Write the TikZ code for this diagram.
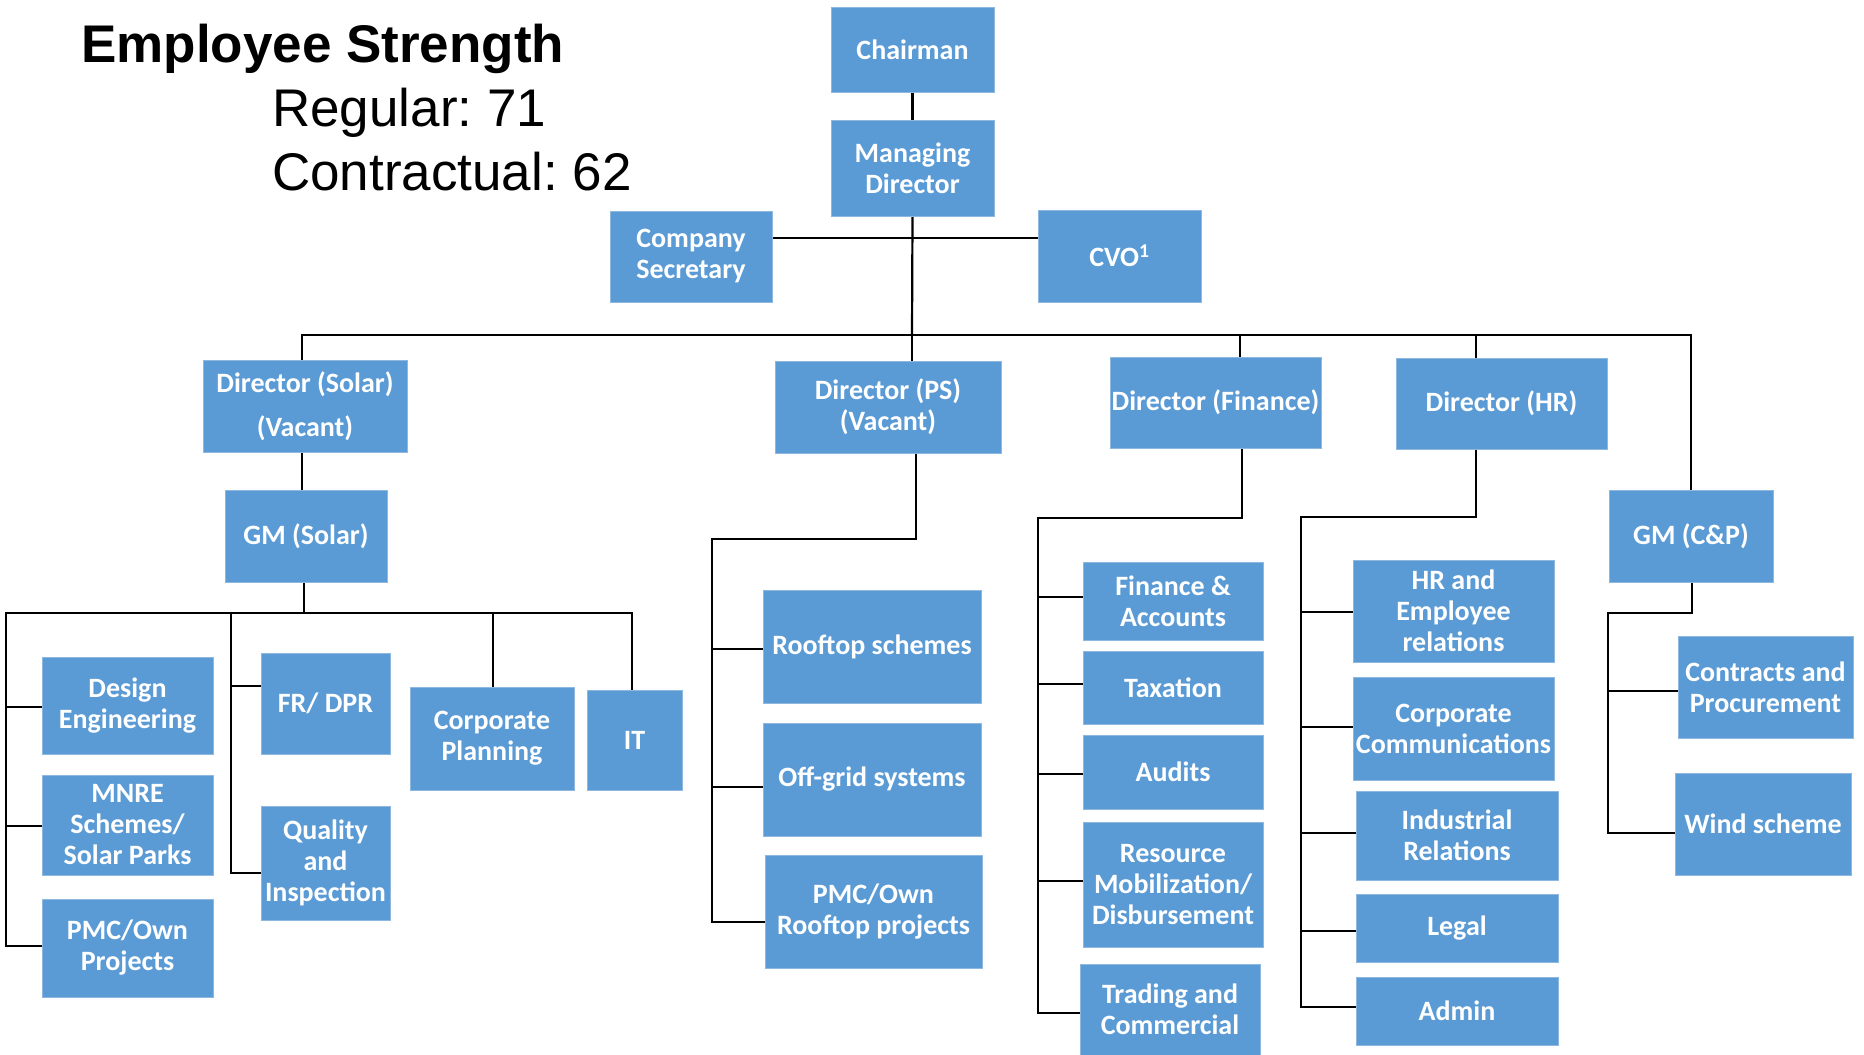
\documentclass[tikz,border=0pt]{standalone}
\usepackage{fontspec}
\setmainfont{Carlito}
\newfontfamily\arialf{Liberation Sans}
\usetikzlibrary{backgrounds}
\definecolor{boxblue}{HTML}{5B9BD5}
\definecolor{boxedge}{HTML}{8FB8E0}
\frenchspacing
\begin{document}
\begin{tikzpicture}[x=1pt,y=-1pt,
  box/.style={fill=boxblue, draw=boxedge, line width=0.8pt, text=white, align=center, inner sep=0pt,
              font=\fontsize{28}{31}\selectfont\bfseries},
  wh/.style 2 args={minimum width=#1, minimum height=#2},
  wire/.style={draw=black, line width=2.2pt, line cap=rect, line join=miter},
  ttl/.style={anchor=base west, inner sep=0pt, text=black}]
\useasboundingbox (0,0) rectangle (1864,1055);

% title
\node[ttl, font=\arialf\bfseries\fontsize{53}{53}\selectfont] (title) at (81,62) {Employee Strength};
\node[ttl, font=\arialf\fontsize{53}{53}\selectfont] (reg) at (272,126) {Regular: 71};
\node[ttl, font=\arialf\fontsize{53}{53}\selectfont] (con) at (272,190) {Contractual: 62};

% top
\node[box,wh={163}{85}] (chair) at (912.5,49.5) {Chairman};
\node[box,wh={163}{96}] (md) at (912.5,168) {Managing\\Director};
\node[box,wh={162}{91}] (cs) at (691,256.5) {Company\\Secretary};
\node[box,wh={163}{92}] (cvo) at (1119.5,256) {CVO\textsuperscript{1}};

% directors
\node[box,wh={204}{92}] (dsol) at (305,406) {Director (Solar)\\[13pt](Vacant)};
\node[box,wh={226}{92}] (dps) at (888,407) {Director (PS)\\(Vacant)};
\node[box,wh={211}{91}] (dfin) at (1215.5,402.5) {Director (Finance)};
\node[box,wh={211}{91}] (dhr) at (1501.5,403.5) {Director (HR)};
\node[box,wh={162}{92}] (gmsol) at (306,536) {GM (Solar)};
\node[box,wh={164}{92}] (gmcp) at (1691,536) {GM (C\&P)};

% solar
\node[box,wh={171}{97}] (des) at (127.5,705.5) {Design\\Engineering};
\node[box,wh={171}{100}] (mnre) at (127.5,825) {MNRE\\Schemes/\\Solar Parks};
\node[box,wh={171}{98}] (pmco) at (127.5,948) {PMC/Own\\Projects};
\node[box,wh={129}{101}] (frdpr) at (325.5,703.5) {FR/ DPR};
\node[box,wh={129}{114}] (qual) at (325.5,863) {Quality\\and\\Inspection};
\node[box,wh={164}{103}] (cp) at (492,738.5) {Corporate\\Planning};
\node[box,wh={95}{100}] (it) at (634.5,740) {IT};

% PS
\node[box,wh={218}{113}] (roof) at (872,646.5) {Rooftop schemes};
\node[box,wh={218}{113}] (offg) at (872,779.5) {Off-grid systems};
\node[box,wh={217}{113}] (pmcr) at (873.5,911.5) {PMC/Own\\Rooftop projects};

% finance
\node[box,wh={180}{78}] (fa) at (1173,601) {Finance \&\\Accounts};
\node[box,wh={180}{73}] (tax) at (1173,687.5) {Taxation};
\node[box,wh={180}{74}] (aud) at (1173,772) {Audits};
\node[box,wh={180}{125}] (res) at (1173,884.5) {Resource\\Mobilization/\\Disbursement};
\node[box,wh={180}{91}] (trad) at (1170,1009.5) {Trading and\\Commercial};

% HR
\node[box,wh={201}{102}] (hre) at (1453.5,611) {HR and\\Employee\\relations};
\node[box,wh={201}{103}] (cc) at (1453.5,728.5) {Corporate\\Communications};
\node[box,wh={202}{89}] (ir) at (1457,835.5) {Industrial\\Relations};
\node[box,wh={202}{68}] (legal) at (1457,928) {Legal};
\node[box,wh={202}{68}] (admin) at (1457,1011) {Admin};

% C&P
\node[box,wh={175}{102}] (contr) at (1765.5,687) {Contracts and\\Procurement};
\node[box,wh={176}{102}] (wind) at (1763,824) {Wind scheme};

\begin{pgfonlayer}{background}
\coordinate (t) at (912,335);
\draw[wire] (chair.south) -- (md.north);
\draw[wire] (md.south) -- (t);
\coordinate (csj) at (912,238);
\draw[wire] (cs.east |- csj) -- (cvo.west |- csj);
\draw[wire] (dsol.north -| 302,0) |- (t) -| (gmcp.north);
\draw[wire] (t) -- (t |- dps.north);
\coordinate (finx) at (1240,335);
\draw[wire] (finx) -- (finx |- dfin.north);
\coordinate (hrx) at (1476,335);
\draw[wire] (hrx) -- (hrx |- dhr.north);
\draw[wire] (dsol.south -| 302,0) -- (gmsol.north -| 302,0);

% solar
\coordinate (sb) at (304,613);
\coordinate (sl) at (6,613);
\coordinate (sm) at (231,613);
\draw[wire] (gmsol.south -| sb) -- (sb);
\draw[wire] (pmco.west |- 0,946) -| (sl) -| (it.north -| 632,0);
\draw[wire] (des.west |- 0,707) -- (sl |- 0,707);
\draw[wire] (mnre.west |- 0,826) -- (sl |- 0,826);
\draw[wire] (qual.west |- 0,873) -| (sm);
\draw[wire] (frdpr.west |- 0,686) -- (sm |- 0,686);
\draw[wire] (cp.north -| 493,0) -- (sb -| 493,0);

% PS
\coordinate (psx) at (916,539);
\coordinate (psl) at (712,539);
\draw[wire] (psx |- dps.south) -- (psx) -- (psl) |- (pmcr.west |- 0,922);
\draw[wire] (psl |- 0,649) -- (roof.west |- 0,649);
\draw[wire] (psl |- 0,787) -- (offg.west |- 0,787);

% finance
\coordinate (fj) at (1242,518);
\coordinate (fl) at (1038,518);
\draw[wire] (fj |- dfin.south) -- (fj) -- (fl) |- (trad.west |- 0,1013);
\draw[wire] (fl |- 0,597) -- (fa.west |- 0,597);
\draw[wire] (fl |- 0,684) -- (tax.west |- 0,684);
\draw[wire] (fl |- 0,774) -- (aud.west |- 0,774);
\draw[wire] (fl |- 0,881) -- (res.west |- 0,881);

% HR
\coordinate (hj) at (1476,517);
\coordinate (hl) at (1301,517);
\draw[wire] (hj |- dhr.south) -- (hj) -- (hl) |- (admin.west |- 0,1007);
\draw[wire] (hl |- 0,612) -- (hre.west |- 0,612);
\draw[wire] (hl |- 0,727) -- (cc.west |- 0,727);
\draw[wire] (hl |- 0,833) -- (ir.west |- 0,833);
\draw[wire] (hl |- 0,931) -- (legal.west |- 0,931);

% C&P
\coordinate (gj) at (1692,613);
\coordinate (gl) at (1608,613);
\draw[wire] (gmcp.south -| gj) -- (gj) -- (gl) |- (wind.west |- 0,833);
\draw[wire] (gl |- 0,691) -- (contr.west |- 0,691);
\end{pgfonlayer}
\end{tikzpicture}
\end{document}
